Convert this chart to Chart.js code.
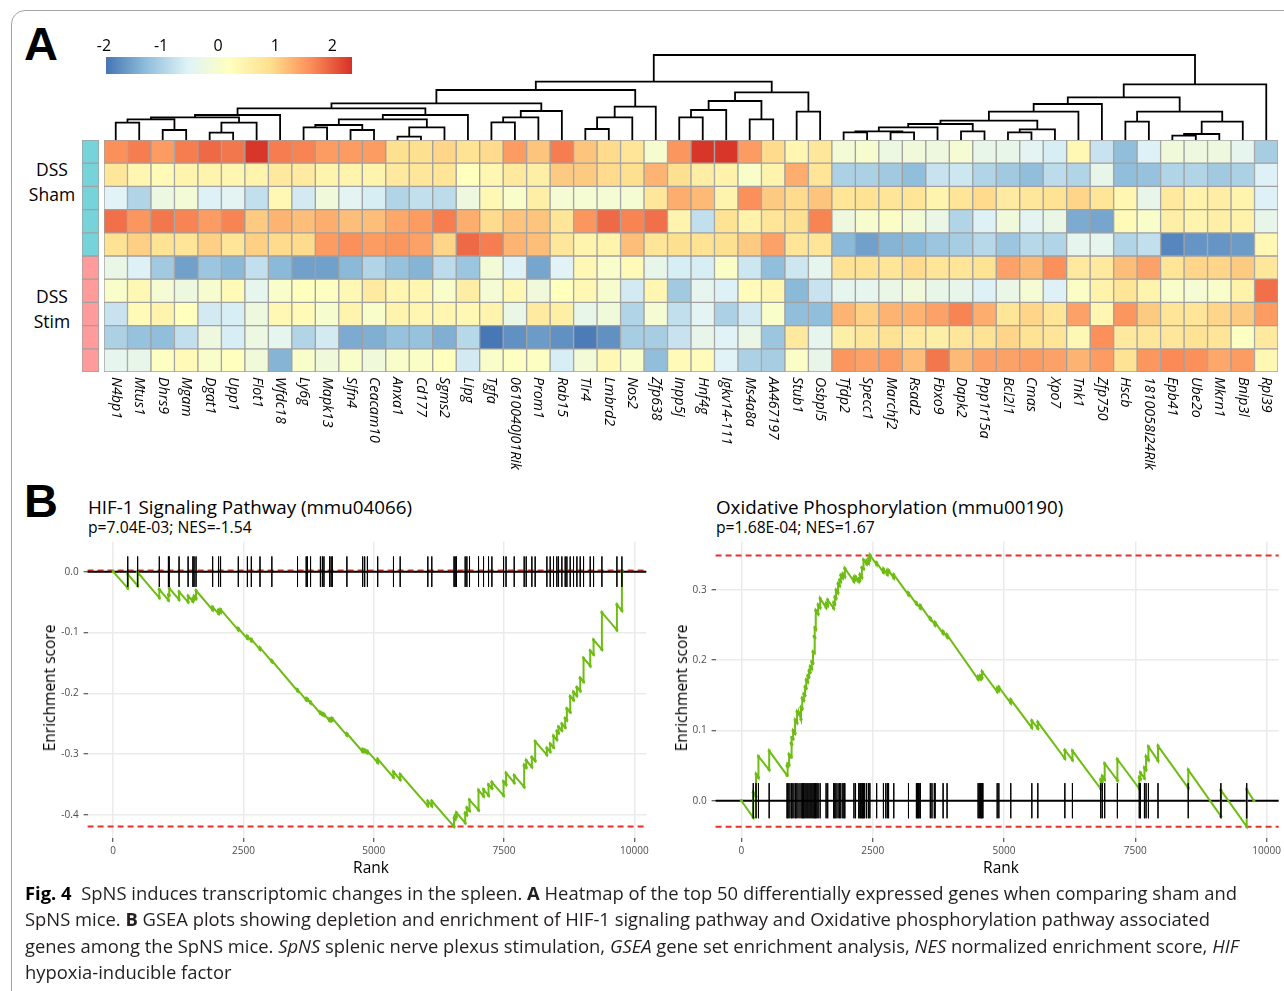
<!DOCTYPE html>
<html>
<head>
<meta charset="utf-8">
<script src="https://cdn.jsdelivr.net/npm/chart.js@4.4.1/dist/chart.umd.min.js"></script>
<style>
html,body{margin:0;padding:0;background:#fff;}
body{width:1284px;height:991px;position:relative;overflow:hidden;font-family:"Open Sans",sans-serif;color:#000;}
.abs{position:absolute;}
canvas{display:block;position:absolute;}
.frame{position:absolute;left:11px;top:10px;width:1320px;height:1020px;border:1.5px solid #a3a3a3;border-radius:14px;}
.letter{font-family:"Liberation Sans",Arial,sans-serif;font-weight:bold;font-size:47px;line-height:47px;}
.rowlab{font-size:17.5px;line-height:25px;text-align:center;width:64px;left:20px;}
.ttl{font-size:18.8px;line-height:22px;white-space:nowrap;}
.sub{font-size:15.7px;line-height:18px;white-space:nowrap;}
.axt{font-size:15.5px;line-height:18px;white-space:nowrap;transform:translate(-50%,-50%);}
.axt.rot{transform:translate(-50%,-50%) rotate(-90deg);}
.cap{left:25px;top:880px;font-size:18.4px;line-height:26.3px;white-space:nowrap;color:#231f20;}
</style>
</head>
<body>
<div class="frame"></div>
<div class="abs letter" style="left:24px;top:20px;">A</div>
<div class="abs letter" style="left:24px;top:477px;">B</div>

<div class="abs rowlab" style="top:157px;">DSS<br>Sham</div>
<div class="abs rowlab" style="top:284px;">DSS<br>Stim</div>

<canvas id="legend" width="286" height="42" style="left:86px;top:32px;"></canvas>
<canvas id="dendro" width="1174" height="91" style="left:104px;top:49px;"></canvas>
<canvas id="annot" width="17" height="232" style="left:82px;top:140px;"></canvas>
<canvas id="heat" width="1174" height="345" style="left:104px;top:140px;"></canvas>

<div class="abs ttl" style="left:88px;top:496px;">HIF-1 Signaling Pathway (mmu04066)</div>
<div class="abs sub" style="left:88px;top:518px;">p=7.04E-03; NES=-1.54</div>
<div class="abs ttl" style="left:716px;top:496px;">Oxidative Phosphorylation (mmu00190)</div>
<div class="abs sub" style="left:716px;top:518px;">p=1.68E-04; NES=1.67</div>

<canvas id="gsea1" width="630" height="352" style="left:30px;top:530px;"></canvas>
<canvas id="gsea2" width="624" height="352" style="left:660px;top:530px;"></canvas>
<div class="abs axt rot" style="left:49px;top:688px;">Enrichment score</div>
<div class="abs axt" style="left:371px;top:867px;">Rank</div>
<div class="abs axt rot" style="left:681px;top:688px;">Enrichment score</div>
<div class="abs axt" style="left:1001px;top:867px;">Rank</div>

<div class="abs cap">
<b style="color:#000">Fig. 4</b>&nbsp; SpNS induces transcriptomic changes in the spleen. <b>A</b> Heatmap of the top 50 differentially expressed genes when comparing sham and<br>
SpNS mice. <b>B</b> GSEA plots showing depletion and enrichment of HIF-1 signaling pathway and Oxidative phosphorylation pathway associated<br>
genes among the SpNS mice. <i>SpNS</i> splenic nerve plexus stimulation, <i>GSEA</i> gene set enrichment analysis, <i>NES</i> normalized enrichment score, <i>HIF</i><br>
hypoxia-inducible factor
</div>

<script>
// ---- Heatmap data ----
const genes = ['N4bp1','Mtus1','Dhrs9','Mgam','Dgat1','Upp1','Flot1','Wfdc18','Ly6g','Mapk13',
  'Slfn4','Ceacam10','Anxa1','Cd177','Sgms2','Lipg','Tgfa','0610040J01Rik','Prom1','Rab15',
  'Tlr4','Lmbrd2','Nos2','Zfp638','Inpp5j','Hnf4g','Igkv14-111','Ms4a8a','AA467197','Stub1',
  'Osbpl5','Tfdp2','Specc1','Marchf2','Rsad2','Fbxo9','Dapk2','Ppp1r15a','Bcl2l1','Cmas',
  'Xpo7','Tnk1','Zfp750','Hscb','1810058I24Rik','Epb41','Ube2o','Mkrn1','Bnip3l','Rpl39'];

const sampleGroups = ['sham','sham','sham','sham','sham','stim','stim','stim','stim','stim'];
const groupColors = {sham:'#77d3da', stim:'#ff9b9b'};

const sham1 = [1.6,1.75,1.5,1.75,1.9,1.8,2.3,1.75,1.7,1.5,1.5,1.5,0.9,0.9,1.0,0.85,
  0.95,1.5,1.15,1.75,1.15,0.95,0.8,0.0,1.55,2.3,2.3,1.5,0.95,0.4,0.75,-0.1,
  0.0,-0.25,-0.15,-0.2,-0.05,-0.35,-0.35,-0.45,-0.6,0.35,-0.75,-1.25,-0.55,-0.15,-0.2,-0.2,-0.4,-1.05];
const sham2 = [0.75,0.4,0.3,0.45,0.45,0.4,0.45,0.7,0.65,0.45,0.45,0.45,0.7,0.75,0.8,0.2,
  0.4,0.7,0.55,1.1,1.1,0.95,0.9,1.3,0.9,0.6,0.5,0.05,0.45,1.35,0.8,-1.0,
  -1.0,-1.1,-1.25,-0.75,-0.7,-0.95,-1.1,-1.25,-0.85,-0.95,-0.35,-1.25,-1.2,-0.95,-0.95,-1.1,-1.0,-0.55];
const sham3 = [-0.5,-0.95,-0.25,-0.1,-0.55,-0.45,-0.8,0.35,-0.65,-0.15,-0.45,-0.6,-0.95,-0.8,-0.85,-0.2,
  0.35,0.05,0.55,-0.05,-0.05,-0.05,-0.05,0.75,1.35,1.25,0.45,1.6,1.1,0.95,1.15,0.8,
  0.85,0.8,0.8,0.45,0.8,0.95,0.65,0.75,0.85,1.0,0.8,0.4,-0.35,0.7,0.5,0.6,0.45,-0.55];
const sham4 = [1.85,1.55,1.8,1.7,1.5,1.7,1.1,1.3,1.2,1.35,1.2,1.2,1.4,1.5,1.75,1.35,
  0.95,1.15,1.15,0.8,1.55,1.9,1.7,1.85,0.45,-0.8,0.85,0.5,0.8,0.9,1.7,-0.2,
  0.0,0.1,-0.1,-0.3,-0.95,-0.55,-0.15,-0.45,-0.3,-1.45,-1.5,0.3,0.05,0.55,0.45,0.55,0.5,-0.35];
const sham5 = [0.85,1.05,0.85,0.8,1.05,0.8,1.05,0.95,0.95,1.5,1.6,1.5,1.55,1.45,1.0,1.9,
  1.75,1.3,1.2,0.75,0.45,0.45,1.2,0.8,0.9,0.85,0.9,1.1,1.45,0.8,0.8,-1.3,
  -1.55,-1.35,-1.3,-1.15,-1.05,-0.9,-1.15,-0.9,-0.95,-0.4,-0.4,-0.95,-0.8,-1.8,-1.65,-1.65,-1.6,0.35];
const stim1 = [-0.3,-0.55,-1.1,-1.55,-1.15,-1.3,-0.8,-1.3,-1.55,-1.55,-1.3,-0.95,-1.2,-1.35,-0.85,-1.15,
  -0.1,-0.55,-1.5,-0.5,0.35,0.05,0.3,-0.35,-0.6,-0.6,0.1,-0.7,-1.25,-0.7,-0.4,0.85,
  0.85,0.8,0.95,0.8,0.8,0.85,1.45,1.25,1.6,0.7,0.7,1.2,1.45,0.8,1.0,1.0,1.1,0.75];
const stim2 = [0.05,0.35,-0.05,-0.2,0.0,0.3,-0.4,0.05,0.2,0.15,0.35,0.65,0.4,0.4,0.05,0.6,
  -0.05,0.35,-0.15,0.2,0.35,0.0,-0.65,0.4,-1.1,-0.4,-0.55,0.25,0.4,-1.3,-0.75,-0.4,
  -0.4,-0.3,-0.15,-0.35,-0.35,-0.55,-0.3,-0.05,-0.55,0.1,0.5,0.8,0.45,0.05,-0.05,0.05,0.5,1.85];
const stim3 = [-0.75,0.3,0.45,0.2,-0.65,-0.6,-0.2,0.35,0.3,0.0,0.45,0.05,0.45,0.4,0.4,0.35,
  0.45,-0.3,0.65,0.55,-0.35,-0.15,-0.95,-0.05,-0.8,-0.45,-1.0,-0.65,0.05,-1.25,-1.25,1.3,
  1.05,1.3,1.3,1.45,1.7,1.35,0.8,1.0,0.8,1.45,0.4,1.55,1.1,0.8,0.8,1.0,1.1,1.5];
const stim4 = [-1.0,-1.2,-1.25,-0.8,-0.2,-0.6,-0.25,-0.4,-0.95,-0.65,-1.45,-1.4,-1.2,-1.2,-1.4,-0.9,
  -1.95,-1.7,-1.6,-1.7,-1.9,-1.7,-1.05,-1.05,-0.75,-0.35,-0.5,-0.3,-1.15,0.7,-0.4,0.55,
  0.75,0.85,0.65,0.55,0.75,0.85,1.0,0.85,0.8,0.35,1.6,0.7,0.75,0.75,0.85,0.8,0.15,0.7];
const stim5 = [-0.4,-0.35,0.15,0.3,0.05,0.2,-0.15,-1.35,0.05,-0.15,0.05,-0.15,0.05,0.1,0.2,-0.65,
  0.05,0.15,0.15,-0.6,-0.1,0.35,0.05,-1.25,0.3,0.25,-0.5,-1.0,-1.05,0.1,-0.35,1.55,
  1.45,1.5,1.2,1.8,1.25,1.45,1.45,1.5,1.45,1.3,1.5,0.85,1.55,1.65,1.6,1.4,1.5,0.35];
const heatRows = [sham1,sham2,sham3,sham4,sham5,stim1,stim2,stim3,stim4,stim5];

// colour key
const colorVals = [-1.965,-1.247,-0.528,0.19,0.908,1.627,2.345];
const colorHex  = ['#4575B4','#91BFDB','#E0F3F8','#FFFFBF','#FEE090','#FC8D59','#D73027'];
const legendTicks = [-2,-1,0,1,2];

// column dendrogram: [left, right, height]; negative = leaf (gene column), positive = earlier merge
const dendroMerges = [
  [-1,-2,17.3],[-3,-4,10],[1,2,20.7],[-5,-6,7.3],[4,-7,17.3],[3,5,22.7],[6,-8,25],
  [-9,-10,12.7],[-11,-12,10],[8,9,15],[-13,-14,3.3],[11,-15,12.7],[10,12,20.7],[13,-16,25],
  [7,14,31.7],[-17,-18,17.7],[16,-19,22.7],[17,-20,29],[15,18,36.7],[-21,-22,11],[20,-23,22.7],
  [21,-24,33.3],[19,22,50],[-25,-26,22.7],[24,-27,30],[-28,-29,20.7],[25,26,39],[-30,-31,28.3],
  [27,28,47.7],[23,29,58.3],[-32,-33,7.7],[-34,-35,7.7],[31,32,8.7],[33,-36,12.7],[-37,-38,8.7],
  [34,35,16],[-39,-40,7.7],[37,-41,10.7],[36,38,19.3],[39,-42,28.3],[40,-43,36],[-44,-45,18.3],
  [-46,-47,4.3],[43,-48,6],[44,-49,18.3],[42,45,28.3],[41,46,42.7],[47,-50,55.7],[30,48,85]
];

// ---- GSEA data ----
const rankTicks = [0,2500,5000,7500,10000];
const hitHalf = 0.025;

const hifYTicks = [-0.4,-0.3,-0.2,-0.1,0.0];
const hifRefs = [0.002,-0.419];
const hifHits = [280,470,886,1061,1076,1265,1439,1530,1553,1591,1909,2023,2061,2402,2576,2652,2818,3045,
  3538,3705,3727,3788,3977,4015,4045,4152,4182,4205,4485,4788,4826,4879,5076,5379,5508,6038,6114,
  6541,6563,6587,6755,6787,6838,7011,7107,7203,7267,7491,7539,7696,7887,7926,8034,8098,8322,8386,
  8450,8514,8546,8610,8674,8706,8770,8834,8898,8962,9026,9154,9218,9378,9666,9762];
const hifCurve = [[0,0],
  [280,-0.027],[280,-0.004],[470,-0.023],[470,-0.001],[886,-0.043],[886,-0.029],
  [1061,-0.047],[1061,-0.038],[1076,-0.039],[1076,-0.027],[1265,-0.046],[1265,-0.033],
  [1439,-0.050],[1439,-0.040],[1530,-0.049],[1530,-0.044],[1553,-0.046],[1553,-0.040],
  [1591,-0.044],[1591,-0.031],[1909,-0.063],[1909,-0.058],[2023,-0.069],[2023,-0.063],
  [2061,-0.067],[2061,-0.062],[2402,-0.096],[2402,-0.093],[2576,-0.110],[2576,-0.106],
  [2652,-0.114],[2652,-0.111],[2818,-0.128],[2818,-0.125],[3045,-0.148],[3045,-0.146],
  [3538,-0.196],[3538,-0.194],[3705,-0.211],[3705,-0.209],[3727,-0.211],[3727,-0.209],
  [3788,-0.216],[3788,-0.214],[3977,-0.233],[3977,-0.231],[4015,-0.235],[4015,-0.233],
  [4045,-0.236],[4045,-0.234],[4152,-0.245],[4152,-0.242],[4182,-0.245],[4182,-0.242],
  [4205,-0.244],[4205,-0.241],[4485,-0.269],[4485,-0.266],[4788,-0.296],[4788,-0.292],
  [4826,-0.296],[4826,-0.293],[4879,-0.298],[4879,-0.295],[5076,-0.314],[5076,-0.308],
  [5379,-0.338],[5379,-0.329],[5508,-0.342],[5508,-0.333],[6038,-0.385],[6038,-0.377],
  [6114,-0.385],[6114,-0.377],
  [6541,-0.419],[6541,-0.405],[6563,-0.407],[6563,-0.401],[6587,-0.403],[6587,-0.396],
  [6755,-0.413],[6755,-0.397],[6787,-0.400],[6787,-0.388],[6838,-0.393],[6838,-0.375],
  [7011,-0.392],[7011,-0.359],[7107,-0.369],[7107,-0.358],[7203,-0.368],[7203,-0.350],
  [7267,-0.356],[7267,-0.346],[7491,-0.368],[7491,-0.345],[7539,-0.350],[7539,-0.331],
  [7696,-0.347],[7696,-0.335],[7887,-0.354],[7887,-0.318],[7926,-0.322],[7926,-0.310],
  [8034,-0.321],[8034,-0.305],[8098,-0.311],[8098,-0.279],[8322,-0.301],[8322,-0.290],
  [8386,-0.296],[8386,-0.283],[8450,-0.289],[8450,-0.270],[8514,-0.276],[8514,-0.262],
  [8546,-0.265],[8546,-0.255],[8610,-0.261],[8610,-0.250],[8674,-0.256],[8674,-0.241],
  [8706,-0.244],[8706,-0.225],[8770,-0.231],[8770,-0.205],[8834,-0.211],[8834,-0.198],
  [8898,-0.204],[8898,-0.190],[8962,-0.196],[8962,-0.175],[9026,-0.181],[9026,-0.142],
  [9154,-0.155],[9154,-0.130],[9218,-0.136],[9218,-0.112],[9378,-0.128],[9378,-0.067],
  [9666,-0.096],[9666,-0.054],[9762,-0.064],[9762,0.0]];

const oxYTicks = [0.0,0.1,0.2,0.3];
const oxRefs = [0.349,-0.037];
const oxHits = [227,280,326,530,871,886,909,947,962,985,1023,1038,1061,1098,1136,1159,1174,1189,1212,1235,
  1265,1288,1311,1341,1364,1386,1402,1417,1439,1462,1500,1614,1644,1758,1780,1803,1841,1871,1894,1932,
  1955,1970,2144,2174,2235,2258,2273,2295,2311,2326,2348,2386,2424,2447,2576,2705,2750,2780,2803,2902,
  3182,3333,3356,3371,3386,3409,3598,3629,3674,3689,3841,3917,4508,4530,4553,4568,4583,4598,4871,4902,
  5129,5530,5644,6159,6303,6841,6871,6917,7159,7576,7598,7674,7705,7750,7932,8508,9129,9621];
const oxCurve = [[0,0],
  [227,-0.024],[227,0.012],[280,0.006],[280,0.038],[326,0.033],[326,0.063],[530,0.044],[530,0.071],
  [871,0.036],[871,0.050],[886,0.048],[886,0.053],[909,0.051],[909,0.066],[947,0.062],[947,0.082],
  [962,0.080],[962,0.090],[985,0.088],[985,0.100],[1023,0.096],[1023,0.115],[1061,0.111],[1061,0.127],
  [1098,0.123],[1098,0.125],[1136,0.116],[1136,0.133],[1159,0.131],[1159,0.146],[1189,0.143],[1189,0.152],
  [1212,0.150],[1212,0.162],[1235,0.160],[1235,0.172],[1265,0.169],[1265,0.178],[1288,0.176],[1288,0.185],
  [1311,0.183],[1311,0.191],[1341,0.188],[1341,0.198],[1364,0.196],[1364,0.212],[1386,0.210],[1386,0.234],
  [1402,0.232],[1402,0.246],[1417,0.244],[1417,0.271],[1462,0.266],[1462,0.279],[1500,0.275],[1500,0.288],
  [1614,0.275],[1614,0.281],[1644,0.278],[1644,0.286],[1758,0.274],[1758,0.282],[1780,0.280],[1780,0.290],
  [1803,0.288],[1803,0.300],[1841,0.296],[1841,0.309],[1871,0.306],[1871,0.314],[1894,0.312],[1894,0.321],
  [1932,0.317],[1932,0.323],[1970,0.319],[1970,0.331],[2144,0.312],[2144,0.318],[2174,0.315],[2174,0.319],
  [2235,0.312],[2235,0.316],[2258,0.314],[2258,0.322],[2295,0.318],[2295,0.332],[2326,0.330],[2326,0.343],
  [2386,0.337],[2386,0.342],[2424,0.338],[2424,0.345],[2447,0.343],[2447,0.350],[2576,0.336],[2576,0.339],
  [2705,0.325],[2705,0.330],[2780,0.322],[2780,0.328],[2803,0.326],[2803,0.328],[2902,0.317],[2902,0.322],
  [3182,0.293],[3182,0.296],[3333,0.280],[3333,0.282],[3409,0.274],[3409,0.278],[3598,0.258],[3598,0.260],
  [3689,0.250],[3689,0.254],[3841,0.238],[3841,0.241],[3917,0.233],[3917,0.236],
  [4508,0.173],[4508,0.177],[4553,0.173],[4553,0.178],[4583,0.175],[4583,0.184],[4871,0.155],[4871,0.160],
  [4902,0.157],[4902,0.162],[5129,0.139],[5129,0.144],[5530,0.104],[5530,0.114],[5644,0.103],[5644,0.112],
  [6159,0.060],[6159,0.072],[6303,0.058],[6303,0.071],[6841,0.017],[6841,0.030],[6871,0.027],[6871,0.035],
  [6917,0.030],[6917,0.053],[7159,0.029],[7159,0.059],[7576,0.017],[7576,0.033],[7598,0.031],[7598,0.040],
  [7674,0.032],[7674,0.047],[7705,0.044],[7705,0.063],[7750,0.058],[7750,0.077],[7932,0.057],[7932,0.078],
  [8508,0.018],[8508,0.044],[9129,-0.022],[9129,0.015],[9621,-0.037],[9621,0.016],[9758,0.0]];

// ---- helpers ----
const hexRgb = h => [1,3,5].map(i => parseInt(h.slice(i,i+2),16));
function valColor(v){
  if (v <= colorVals[0]) return colorHex[0];
  for (let i = 1; i < colorVals.length; i++){
    if (v <= colorVals[i]){
      const t = (v - colorVals[i-1]) / (colorVals[i] - colorVals[i-1]);
      const a = hexRgb(colorHex[i-1]), b = hexRgb(colorHex[i]);
      const c = a.map((x,k) => Math.round(x + (b[k]-x)*t));
      return `rgb(${c[0]},${c[1]},${c[2]})`;
    }
  }
  return colorHex[colorHex.length-1];
}

function dendroPoints(){
  const pos = [], pts = [];
  const node = id => id < 0 ? [-id, 0] : [pos[id-1], dendroMerges[id-1][2]];
  dendroMerges.forEach(([a,b,h]) => {
    const [xa,ha] = node(a), [xb,hb] = node(b);
    pts.push({x:xa,y:ha},{x:xa,y:h},{x:xb,y:h},{x:xb,y:hb},{x:xb,y:null});
    pos.push((xa+xb)/2);
  });
  return pts;
}

Chart.defaults.font.family = '"Open Sans", sans-serif';
Chart.defaults.animation = false;
Chart.defaults.events = [];
Chart.defaults.plugins.legend.display = false;
Chart.defaults.plugins.tooltip.enabled = false;

// plugins
const gradientBar = {
  id:'gradientBar',
  beforeDatasetsDraw(chart){
    const {ctx, chartArea:a, scales:{x}} = chart;
    const g = ctx.createLinearGradient(a.left,0,a.right,0);
    colorVals.forEach((v,i)=>{
      const t = (x.getPixelForValue(v)-a.left)/(a.right-a.left);
      g.addColorStop(Math.min(1,Math.max(0,t)), colorHex[i]);
    });
    ctx.save(); ctx.fillStyle = g;
    ctx.fillRect(a.left,a.top,a.right-a.left,a.bottom-a.top);
    ctx.restore();
  }
};

const geneLabels = {
  id:'geneLabels',
  afterDraw(chart){
    const {ctx, chartArea:a, scales:{x}} = chart;
    ctx.save();
    ctx.font = 'italic 14.2px "Open Sans"';
    ctx.fillStyle = '#000';
    ctx.textAlign = 'left'; ctx.textBaseline = 'middle';
    genes.forEach((g,i)=>{
      ctx.save();
      ctx.translate(x.getPixelForValue(i), a.bottom + 5);
      ctx.rotate(Math.PI/2);
      ctx.fillText(g, 0, 0);
      ctx.restore();
    });
    ctx.restore();
  }
};

const refLines = {
  id:'refLines',
  beforeDatasetsDraw(chart, args, opts){
    const {ctx, chartArea:a, scales:{y}} = chart;
    ctx.save();
    ctx.lineWidth = 2;
    ctx.strokeStyle = '#e8302a';
    ctx.setLineDash([6,4]);
    (opts.dashed || []).forEach(v=>{
      const py = y.getPixelForValue(v);
      ctx.beginPath(); ctx.moveTo(a.left,py); ctx.lineTo(a.right,py); ctx.stroke();
    });
    ctx.setLineDash([]);
    ctx.strokeStyle = '#000';
    const p0 = y.getPixelForValue(0);
    ctx.beginPath(); ctx.moveTo(a.left,p0); ctx.lineTo(a.right,p0); ctx.stroke();
    ctx.restore();
  }
};

// ---- charts ----
function build(){
  // colour key
  new Chart(document.getElementById('legend'), {
    type:'scatter',
    data:{datasets:[{data:[]}]},
    plugins:[gradientBar],
    options:{
      responsive:false,
      layout:{padding:{left:20,right:20,top:0,bottom:0}},
      scales:{
        x:{type:'linear',position:'top',min:colorVals[0],max:colorVals[colorVals.length-1],
           afterBuildTicks:s=>{ s.ticks = legendTicks.map(v=>({value:v})); },
           afterFit:s=>{ s.height = 25; s.paddingLeft = 0; s.paddingRight = 0; },
           grid:{display:false,drawTicks:false}, border:{display:false},
           ticks:{font:{size:16},color:'#000',padding:1,callback:v=>String(v),autoSkip:false,maxRotation:0}},
        y:{display:false,min:0,max:1}
      }
    }
  });

  // dendrogram
  new Chart(document.getElementById('dendro'), {
    type:'line',
    data:{datasets:[{data:dendroPoints(),borderColor:'#000',borderWidth:1.8,pointRadius:0,
      spanGaps:false,tension:0,clip:false,fill:false}]},
    options:{
      responsive:false,
      layout:{padding:0},
      scales:{
        x:{type:'linear',display:false,min:0.5,max:genes.length+0.5},
        y:{type:'linear',display:false,min:0,max:91}
      }
    }
  });

  // sample annotation strip
  new Chart(document.getElementById('annot'), {
    type:'bar',
    data:{labels:[''], datasets:sampleGroups.map(g=>({
      data:[1], backgroundColor:groupColors[g], borderColor:'#a0a0a0', borderWidth:1,
      borderSkipped:false, barPercentage:1, categoryPercentage:1, stack:'s'}))},
    options:{
      responsive:false,
      layout:{padding:0},
      scales:{
        x:{display:false,stacked:true},
        y:{display:false,stacked:true,min:0,max:sampleGroups.length,reverse:true}
      }
    }
  });

  // heatmap
  new Chart(document.getElementById('heat'), {
    type:'bar',
    data:{labels:genes, datasets:heatRows.map(row=>({
      data:row.map(()=>1), backgroundColor:row.map(valColor), borderColor:'#a0a0a0', borderWidth:1,
      borderSkipped:false, barPercentage:1, categoryPercentage:1, stack:'s'}))},
    plugins:[geneLabels],
    options:{
      responsive:false,
      layout:{padding:{left:0,right:0,top:0,bottom:113}},
      scales:{
        x:{display:false,stacked:true},
        y:{display:false,stacked:true,min:0,max:heatRows.length,reverse:true}
      }
    }
  });

  // GSEA panels
  function gsea(id, curve, hits, refs, yTicks, yMin, yMax, yW, padR){
    const tickPts = [];
    hits.forEach(r=>{ tickPts.push({x:r,y:hitHalf},{x:r,y:-hitHalf},{x:r,y:null}); });
    return new Chart(document.getElementById(id), {
      type:'line',
      data:{datasets:[
        {data:tickPts,borderColor:'rgba(0,0,0,0.85)',borderWidth:1,pointRadius:0,spanGaps:false,tension:0},
        {data:curve.map(([x,y])=>({x,y})),borderColor:'#6fbd14',borderWidth:2,pointRadius:1.6,
         pointBackgroundColor:'#6fbd14',pointBorderWidth:0,tension:0}
      ]},
      plugins:[refLines],
      options:{
        responsive:false,
        layout:{padding:{left:0,right:padR,top:11.7,bottom:0}},
        plugins:{refLines:{dashed:refs}},
        scales:{
          x:{type:'linear',min:-490,max:10230,
             afterBuildTicks:s=>{ s.ticks = rankTicks.map(v=>({value:v})); },
             afterFit:s=>{ s.height = 44; s.paddingLeft = 0; s.paddingRight = 0; },
             grid:{color:'#ebebeb',lineWidth:1.5,tickColor:'#333',tickLength:4,tickWidth:1},
             border:{display:false},
             ticks:{font:{size:10},color:'#4d4d4d',padding:3,callback:v=>String(v),maxRotation:0,autoSkip:false}},
          y:{type:'linear',min:yMin,max:yMax,
             afterBuildTicks:s=>{ s.ticks = yTicks.map(v=>({value:v})); },
             afterFit:s=>{ s.width = yW; s.paddingTop = 0; s.paddingBottom = 0; },
             grid:{color:'#ebebeb',lineWidth:1.5,tickColor:'#333',tickLength:4,tickWidth:1},
             border:{display:false},
             ticks:{font:{size:10},color:'#4d4d4d',padding:5,callback:v=>v.toFixed(1),autoSkip:false}}
        }
      }
    });
  }
  gsea('gsea1', hifCurve, hifHits, hifRefs, hifYTicks, -0.4378, 0.0493, 57.6, 13.7);
  gsea('gsea2', oxCurve, oxHits, oxRefs, oxYTicks, -0.0531, 0.3688, 55.6, 5.3);
}

Promise.all([
  document.fonts.load('italic 14.2px "Open Sans"'),
  document.fonts.load('10px "Open Sans"'),
  document.fonts.load('16px "Open Sans"')
]).catch(()=>{}).then(build);
</script>
</body>
</html>
